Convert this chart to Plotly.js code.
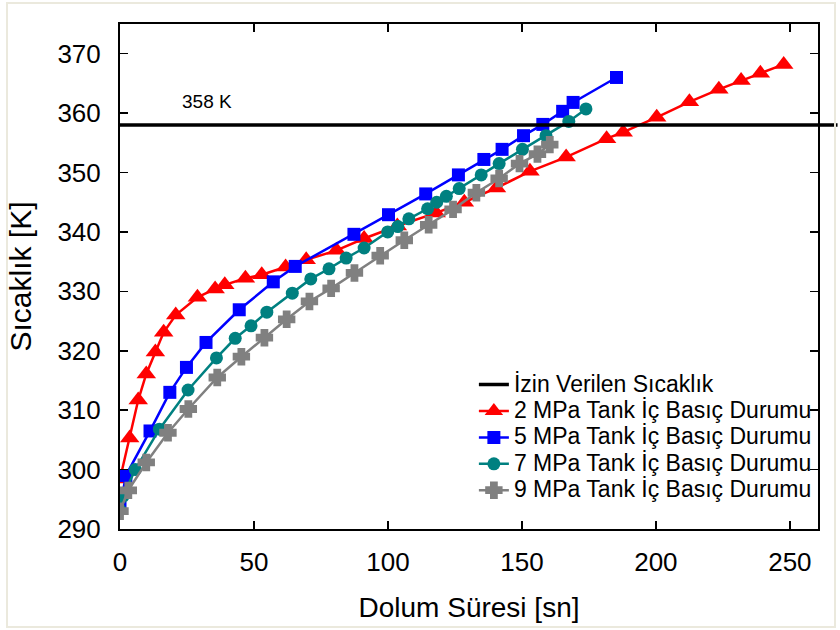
<!DOCTYPE html>
<html>
<head>
<meta charset="utf-8">
<script src="https://cdn.plot.ly/plotly-3.0.1.min.js"></script>
<style>
  html, body { margin: 0; padding: 0; background: #ffffff; }
  #wrap { position: relative; width: 840px; height: 630px; }
  #chart { width: 840px; height: 630px; }
  #frame { position: absolute; left: 6px; top: 2px; width: 830px; height: 626px;
           box-sizing: border-box; border: 2px solid #ebe9dd; pointer-events: none; }
</style>
</head>
<body>
<div id="wrap"><div id="chart"></div><div id="frame"></div></div>
<script>
// Allowed temperature limit [K]
const limitTemp = 358;
const limitLabel = '358 K';

// 2 MPa
const x2 = [0, 3.6, 6.8, 9.8, 13.2, 16.3, 20.8, 28.9, 35.5, 39.1, 46.8, 52.9, 61.8, 69.5, 80.8, 91.1, 103.5, 118, 128.5, 140.5, 153, 166.5, 181.6, 187.8, 200.3, 212.5, 223.5, 231.8, 239, 247.7];
const y2 = [298.4, 305.3, 311.7, 316.1, 319.8, 323.1, 326.0, 329.0, 330.4, 331.1, 332.2, 332.8, 334.1, 335.3, 336.9, 338.9, 341.0, 343.2, 345.0, 347.4, 350.2, 352.6, 355.7, 356.8, 359.3, 361.9, 364.0, 365.5, 366.7, 368.2];

// 5 MPa
const x5 = [0, 2.2, 11.2, 18.6, 24.8, 32.1, 44.5, 57.2, 65.4, 87.3, 100.2, 114.1, 126.3, 135.8, 142.6, 150.6, 157.8, 165.2, 169.1, 185.3];
const y5 = [293.5, 299.0, 306.5, 313.0, 317.2, 321.4, 326.9, 331.6, 334.2, 339.6, 342.9, 346.4, 349.6, 352.2, 353.9, 356.2, 358.1, 360.3, 361.8, 366.0];

// 7 MPa
const x7 = [0, 1.1, 5.7, 14.7, 25.4, 36, 43, 48.9, 54.8, 64.3, 71.2, 78, 84.4, 91.1, 99.9, 103.7, 107.8, 114.8, 118.2, 121.8, 126.6, 134.8, 141.5, 150.2, 159, 167.5, 173.9];
const y7 = [293.2, 295.5, 300.0, 306.8, 313.4, 318.8, 322.1, 324.2, 326.5, 329.7, 332.1, 333.8, 335.6, 337.3, 340.0, 340.9, 342.2, 343.9, 345.0, 346.0, 347.3, 349.6, 351.5, 353.9, 356.2, 358.6, 360.7];

// 9 MPa
const x9 = [0, 3.1, 9.8, 17.9, 25.5, 36.3, 45.3, 53.9, 62.2, 70.7, 78.8, 87.5, 97.1, 106.1, 115.2, 124.3, 133, 141.5, 149.1, 155.8, 160.4];
const y9 = [293.0, 296.5, 301.2, 306.2, 310.2, 315.5, 319.0, 322.2, 325.3, 328.3, 330.5, 333.1, 336.0, 338.6, 341.2, 343.8, 346.6, 349.0, 351.5, 353.1, 354.7];

const seriesNames = ['İzin Verilen Sıcaklık', '2 MPa Tank İç Basıç Durumu', '5 MPa Tank İç Basıç Durumu', '7 MPa Tank İç Basıç Durumu', '9 MPa Tank İç Basıç Durumu'];
const xTicks = [0, 50, 100, 150, 200, 250];
const yTicks = [290, 300, 310, 320, 330, 340, 350, 360, 370];

const FONT = 'Arial, "Liberation Sans", sans-serif';
const big = s => '<span style="font-size:23px">' + s + '</span>';

const traces = [
  { x: x2, y: y2, name: big(seriesNames[1]), mode: 'lines+markers', legendrank: 2,
    line: { color: '#ff0000', width: 2.5 },
    marker: { symbol: 'triangle-up', size: 17, color: '#ff0000' } },
  { x: x5, y: y5, name: big(seriesNames[2]), mode: 'lines+markers', legendrank: 3,
    line: { color: '#0000ff', width: 2.5 },
    marker: { symbol: 'square', size: 13, color: '#0000ff' } },
  { x: x7, y: y7, name: big(seriesNames[3]), mode: 'lines+markers', legendrank: 4,
    line: { color: '#008080', width: 2.5 },
    marker: { symbol: 'circle', size: 13, color: '#008080' } },
  { x: x9, y: y9, name: big(seriesNames[4]), mode: 'lines+markers', legendrank: 5,
    line: { color: '#808080', width: 2.5 },
    marker: { symbol: 'cross', size: 12, color: '#808080', line: { color: '#808080', width: 3 } } },
  { x: [null], y: [null], name: big(seriesNames[0]), mode: 'lines', legendrank: 1,
    line: { color: '#000000', width: 3.5 } }
];

const layout = {
  width: 840, height: 630,
  margin: { l: 120, r: 22, t: 24, b: 101 },
  paper_bgcolor: 'rgba(0,0,0,0)',
  plot_bgcolor: '#ffffff',
  font: { family: FONT, color: '#000000' },
  showlegend: true,
  legend: {
    x: 0.507, y: 0.322, xanchor: 'left', yanchor: 'top',
    bgcolor: 'rgba(0,0,0,0)', borderwidth: 0,
    font: { family: FONT, size: 18, color: '#000000' },
    traceorder: 'normal'
  },
  xaxis: {
    range: [0, 260.5], tickvals: xTicks, ticktext: xTicks.map(String),
    ticks: 'inside', ticklen: 8, tickwidth: 1.5, tickcolor: '#000',
    showline: true, linecolor: '#000', linewidth: 2, mirror: 'ticks',
    showgrid: false, zeroline: false,
    tickfont: { family: FONT, size: 26 }, ticklabelstandoff: 9,
    title: { text: 'Dolum Süresi [sn]', font: { family: FONT, size: 28 }, standoff: 21 }
  },
  yaxis: {
    range: [290, 375], tickvals: yTicks, ticktext: yTicks.map(String),
    ticks: 'inside', ticklen: 8, tickwidth: 1.5, tickcolor: '#000',
    showline: true, linecolor: '#000', linewidth: 2, mirror: 'ticks',
    showgrid: false, zeroline: false,
    tickfont: { family: FONT, size: 26 }, ticklabelstandoff: 12,
    title: { text: 'Sıcaklık [K]', font: { family: FONT, size: 30 }, standoff: 17 }
  },
  shapes: [
    { type: 'line', xref: 'paper', yref: 'y', x0: 0, x1: 1.028, y0: limitTemp, y1: limitTemp,
      line: { color: '#000000', width: 3.5 }, layer: 'above' }
  ],
  annotations: [
    { x: 32.3, y: 362.0, xref: 'x', yref: 'y', text: limitLabel, showarrow: false,
      font: { family: FONT, size: 19, color: '#000' } }
  ]
};

Plotly.newPlot('chart', traces, layout, { displayModeBar: false, staticPlot: true });
</script>
</body>
</html>
